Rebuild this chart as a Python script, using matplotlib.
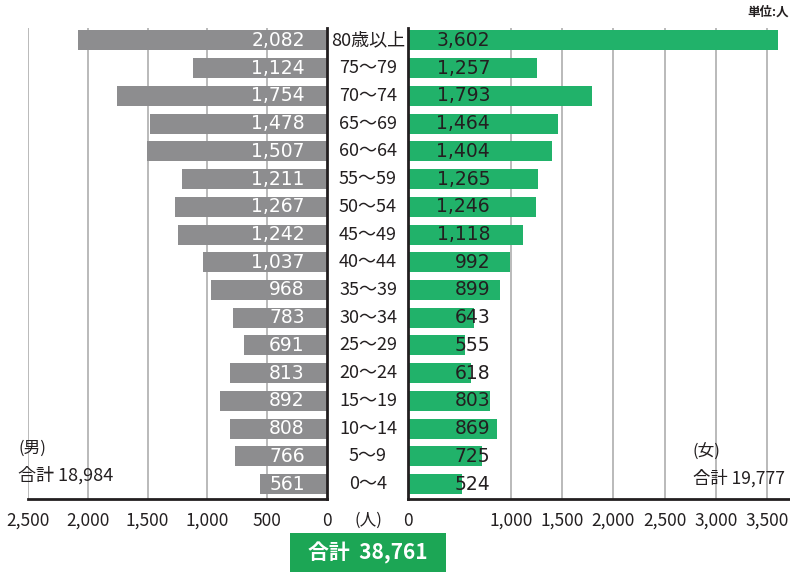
import matplotlib
matplotlib.use("Agg")
import matplotlib.pyplot as plt
from matplotlib.patches import Rectangle
import matplotlib.transforms as mtrans

ages = ["0～4", "5～9", "10～14", "15～19", "20～24", "25～29", "30～34", "35～39",
        "40～44", "45～49", "50～54", "55～59", "60～64", "65～69", "70～74", "75～79", "80歳以上"]
male = [561, 766, 808, 892, 813, 691, 783, 968, 1037, 1242, 1267, 1211, 1507, 1478, 1754, 1124, 2082]
female = [524, 725, 869, 803, 618, 555, 643, 899, 992, 1118, 1246, 1265, 1404, 1464, 1793, 1257, 3602]
left_ticks = [0, 500, 1000, 1500, 2000, 2500]
right_ticks = [0, 1000, 1500, 2000, 2500, 3000, 3500]
male_total = 18984
female_total = 19777
grand_total = 38761

NARROW = ["Noto Sans CJK JP", "DejaVu Sans"]
CJK = ["Noto Sans CJK JP", "DejaVu Sans"]
GRAY = "#8d8d8f"
GREEN = "#21b26a"
GRID = "#b4b4b4"
DARK = "#231f20"

W, H = 790, 572
fig = plt.figure(figsize=(W / 100, H / 100), dpi=100)

def fx(px):
    return px / W

def fy(py):
    return 1 - py / H

ax_bottom = fy(499)
ax_h = (499 - 28) / H
axL = fig.add_axes([fx(28), ax_bottom, (327 - 28) / W, ax_h])
axR = fig.add_axes([fx(408), ax_bottom, (790 - 408) / W, ax_h])

y = list(range(len(ages)))
ylim = (-0.54, 16.45)

# left (male)
axL.barh(y, male, height=0.72, color=GRAY, zorder=2)
axL.set_xlim(2500, 0)
axL.set_ylim(*ylim)
axL.set_xticks(left_ticks)
axL.set_xticklabels([f"{v:,}" for v in left_ticks], family=NARROW, fontsize=12.5, color=DARK)
axL.set_yticks([])
for v in left_ticks[1:]:
    axL.axvline(v, color=GRID, lw=1.3, zorder=1)
for s in ["top", "left"]:
    axL.spines[s].set_visible(False)
axL.spines["right"].set_linewidth(2)
axL.spines["right"].set_color(DARK)
axL.spines["bottom"].set_linewidth(2)
axL.spines["bottom"].set_color(DARK)
axL.tick_params(axis="x", length=0, pad=9)
transL = mtrans.blended_transform_factory(axL.transAxes, axL.transData)
for yi, v in zip(y, male):
    axL.text(0.926, yi, f"{v:,}", transform=transL, ha="right", va="center",
             color="white", fontsize=13.5, family="DejaVu Sans", zorder=3)

# right (female)
axR.barh(y, female, height=0.72, color=GREEN, zorder=2)
axR.set_xlim(0, 3720)
axR.set_ylim(*ylim)
axR.set_xticks(right_ticks)
axR.set_xticklabels([f"{v:,}" for v in right_ticks], family=NARROW, fontsize=12.5, color=DARK)
axR.set_yticks([])
for v in right_ticks[1:]:
    axR.axvline(v, color=GRID, lw=1.3, zorder=1)
for s in ["top", "right"]:
    axR.spines[s].set_visible(False)
for s in ["left", "bottom"]:
    axR.spines[s].set_linewidth(2)
    axR.spines[s].set_color(DARK)
axR.tick_params(axis="x", length=0, pad=9)
transR = mtrans.blended_transform_factory(axR.transAxes, axR.transData)
for yi, v in zip(y, female):
    axR.text(0.2147, yi, f"{v:,}", transform=transR, ha="right", va="center",
             color=DARK, fontsize=13.5, family="DejaVu Sans", zorder=3)

# age labels in the middle
transM = mtrans.blended_transform_factory(fig.transFigure, axL.transData)
for yi, a in zip(y, ages):
    fig.text(fx(368), yi, a, transform=transM, ha="center", va="center",
             family=NARROW, fontsize=13, color=DARK)

fig.text(fx(368), fy(520), "(人)", ha="center", va="center", family=CJK, fontsize=12, color=DARK)
fig.text(fx(789), fy(12), "単位:人", ha="right", va="center", family=CJK, fontsize=9,
         fontweight="bold", color=DARK)

fig.text(fx(18), fy(448), "(男)", ha="left", va="center", family=CJK, fontsize=12, color=DARK)
fig.text(fx(18), fy(475), f"合計 {male_total:,}", ha="left", va="center", family=NARROW,
         fontsize=13, color=DARK)
fig.text(fx(693), fy(452), "(女)", ha="left", va="center", family=CJK, fontsize=12, color=DARK)
fig.text(fx(693), fy(478), f"合計 {female_total:,}", ha="left", va="center", family=NARROW,
         fontsize=12.5, color=DARK)

fig.patches.append(Rectangle((fx(290), 0), (446 - 290) / W, (572 - 533) / H,
                             transform=fig.transFigure, facecolor="#1ca655", edgecolor="none"))
fig.text(fx(368), fy(553), f"合計  {grand_total:,}", ha="center", va="center",
         family=["Noto Sans CJK JP", "DejaVu Sans"], fontsize=15, color="white", fontweight="bold")

fig.savefig("out.png", dpi=100)
